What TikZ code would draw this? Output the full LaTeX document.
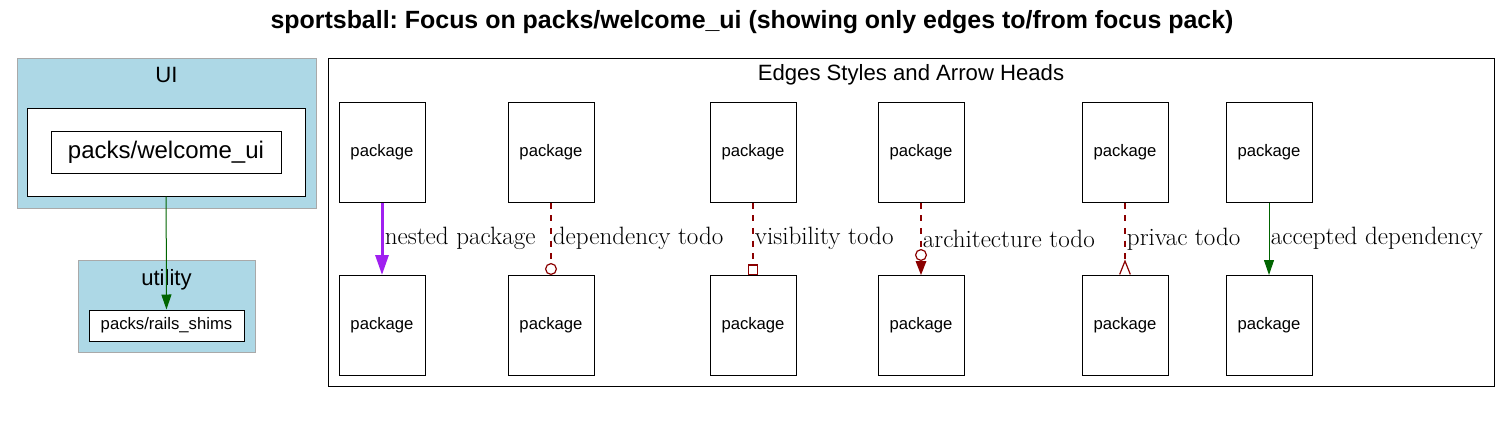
\documentclass[tikz,border=0pt]{standalone}
\usepackage{fontspec}
\usepackage{xcolor}
\usepackage{tikz}
\usetikzlibrary{arrows.meta,positioning}
\newfontfamily\arialfont{Liberation Sans}
\frenchspacing

\definecolor{clusterblue}{HTML}{ADD8E6}
\definecolor{clustergray}{HTML}{A9A9A9}
\definecolor{todored}{HTML}{8B0000}
\definecolor{okgreen}{HTML}{006400}
\definecolor{nestpurple}{HTML}{A020F0}

\tikzset{
	pkg/.style={draw, line width=0.75pt, minimum width=64.5pt, minimum height=75pt, inner sep=0pt, font=\arialfont\fontsize{12.5}{14}\selectfont},
	cluster/.style={draw=clustergray, fill=clusterblue, line width=0.75pt, inner sep=0pt},
	clusterlabel/.style={anchor=north, inner sep=0pt, font=\arialfont\fontsize{16.6}{18}\selectfont},
	edgelabel/.style={right, inner sep=1pt, text=black, font=\fontsize{18.8}{20}\selectfont},
	todo/.style={draw=todored, dash pattern=on 4.5pt off 5pt, line width=0.9pt},
}

\begin{document}
\begin{tikzpicture}[x=0.75pt, y=-0.75pt]
	\useasboundingbox (0,0) rectangle (1511,433);
	
	% Title
	\node[font=\arialfont\bfseries\fontsize{18.7}{20}\selectfont] (title) at (752,22) {sportsball: Focus on packs/welcome\_ui (showing only edges to/from focus pack)};
	
	% Clusters
	\node[cluster, minimum width=224.25pt, minimum height=112.5pt] (ui) at (166.5,133) {};
	\node[clusterlabel, yshift=-7pt] (uilabel) at (ui.north) {UI};
	\node[draw, fill=white, line width=0.75pt, minimum width=208.5pt, minimum height=66pt] (welcomebox) at (166,152) {};
	\node[draw, fill=white, line width=0.75pt, minimum width=172.5pt, minimum height=31.5pt, inner sep=0pt, font=\arialfont\fontsize{18}{20}\selectfont] (welcome) at (166,152) {packs/welcome\_ui};
	
	\node[cluster, minimum width=132.75pt, minimum height=69pt] (utility) at (166.5,306) {};
	\node[clusterlabel, yshift=-7pt] (utilitylabel) at (utility.north) {utility};
	\node[draw, fill=white, line width=0.75pt, minimum width=116.25pt, minimum height=23.25pt, inner sep=0pt, font=\arialfont\fontsize{12.5}{14}\selectfont] (rails) at (166.5,325.5) {packs/rails\_shims};
	
	% Legend
	\node[draw, line width=0.75pt, minimum width=874.5pt, minimum height=246pt] (legend) at (911,222) {};
	\node[clusterlabel, yshift=-5pt] (legendlabel) at (legend.north) {Edges Styles and Arrow Heads};
	
	% Nodes
	\node[pkg] (nestedA) at (382,152) {package};
	\node[pkg] (nestedB) at (382,325.5) {package};
	\node[pkg] (depA) at (551,152) {package};
	\node[pkg] (depB) at (551,325.5) {package};
	\node[pkg] (visA) at (753,152) {package};
	\node[pkg] (visB) at (753,325.5) {package};
	\node[pkg] (archA) at (921,152) {package};
	\node[pkg] (archB) at (921,325.5) {package};
	\node[pkg] (privA) at (1125,152) {package};
	\node[pkg] (privB) at (1125,325.5) {package};
	\node[pkg] (accA) at (1269,152) {package};
	\node[pkg] (accB) at (1269,325.5) {package};
	
	% Arrows
	\draw[okgreen, line width=0.75pt, -{Triangle[length=11.25pt, width=7.5pt]}] (welcomebox) -- (rails);
	\draw[nestpurple, line width=2.25pt, -{Triangle[length=15pt, width=9.75pt]}] (nestedA) -- node[edgelabel] {nested package} (nestedB);
	\draw[todo, -{Circle[todored, fill=white, length=9pt, width=9pt]}] (depA) -- node[edgelabel] {dependency todo} (depB);
	\draw[todo, -{Square[todored, fill=white, length=8pt, width=8pt]}] (visA) -- node[edgelabel] {visibility todo} (visB);
	\draw[todo, -{Circle[todored, fill=white, length=9pt, width=9pt] Triangle[todored, length=10.5pt, width=8pt]}] (archA) -- node[edgelabel] {architecture todo} (archB);
	\draw[todo, -{Straight Barb[reversed, todored, length=10pt, width=8pt]}] (privA) -- node[edgelabel] {privac todo} (privB);
	\draw[okgreen, line width=0.75pt, -{Triangle[length=11.25pt, width=7.5pt]}] (accA) -- node[edgelabel] {accepted dependency} (accB);
	
\end{tikzpicture}
\end{document}
